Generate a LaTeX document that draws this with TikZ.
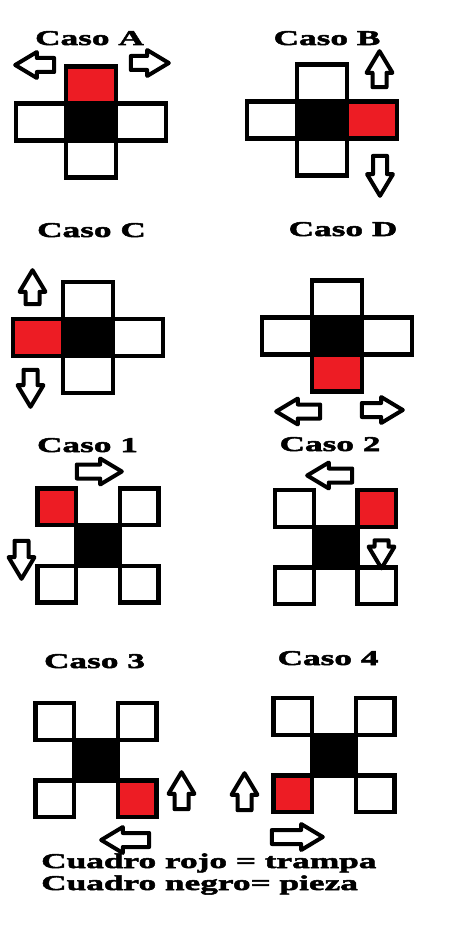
\documentclass[tikz,border=0pt]{standalone}
\usepackage{fontspec}
\newfontfamily\rotulo[FakeStretch=1.68,FakeBold=2.5]{Liberation Serif}
\usetikzlibrary{positioning}
\usetikzlibrary{shapes.arrows}
\definecolor{rojo}{RGB}{237,28,36}

\begin{document}
\begin{tikzpicture}[x=1pt, y=-1pt, node distance=0pt,
    celda/.style={rectangle, draw=black, line width=4.4pt, minimum width=50pt, minimum height=37pt, inner sep=0pt, outer sep=0pt},
    esquina/.style={celda, minimum width=38.6pt, minimum height=36.6pt},
    pieza/.style={celda, fill=black, minimum width=43.6pt, minimum height=40.6pt},
    flecha/.style={single arrow, draw=black, fill=white, line width=4pt, line join=round, inner sep=0pt, inner ysep=5pt, single arrow head extend=6pt, single arrow tip angle=62, minimum height=#1},
    titulo/.style={font=\rotulo\bfseries\fontsize{21}{25}\selectfont, anchor=base, inner sep=0pt},
    leyenda/.style={titulo, anchor=base west}]
        \useasboundingbox (0,0) rectangle (466,941);

        \node[titulo] (titA) at (89.5,45) {Caso A};
        \node[celda, fill=black] (negA) at (91,122) {};
        \node[celda, fill=rojo] (arrA) [above=of negA] {};
        \node[celda] (abaA) [below=of negA] {};
        \node[celda] (izqA) [left=of negA] {};
        \node[celda] (derA) [right=of negA] {};
        \node[flecha=39pt, rotate=180] (flA1) at (40.5,65) {};
        \node[flecha=38pt] (flA2) at (144,63) {};

        \node[titulo] (titB) at (327,45) {Caso B};
        \node[celda, fill=black] (negB) at (322,120) {};
        \node[celda] (arrB) [above=of negB] {};
        \node[celda] (abaB) [below=of negB] {};
        \node[celda] (izqB) [left=of negB] {};
        \node[celda, fill=rojo] (derB) [right=of negB] {};
        \node[flecha=36pt, rotate=90] (flB1) at (379.5,75) {};
        \node[flecha=40pt, rotate=270] (flB2) at (380,170) {};

        \node[titulo] (titC) at (91.5,237) {Caso C};
        \node[celda, fill=black] (negC) at (88,337.5) {};
        \node[celda] (arrC) [above=of negC] {};
        \node[celda] (abaC) [below=of negC] {};
        \node[celda, fill=rojo] (izqC) [left=of negC] {};
        \node[celda] (derC) [right=of negC] {};
        \node[flecha=34pt, rotate=90] (flC1) at (32.5,293) {};
        \node[flecha=37pt, rotate=270] (flC2) at (30.5,382.5) {};

        \node[titulo] (titD) at (343,236) {Caso D};
        \node[celda, fill=black] (negD) at (337,336) {};
        \node[celda] (arrD) [above=of negD] {};
        \node[celda, fill=rojo] (abaD) [below=of negD] {};
        \node[celda] (izqD) [left=of negD] {};
        \node[celda] (derD) [right=of negD] {};
        \node[flecha=44pt, rotate=180] (flD1) at (304,411.5) {};
        \node[flecha=41pt] (flD2) at (376.5,410) {};

        \node[titulo] (tit1) at (87.5,452) {Caso 1};
        \node[pieza] (neg1) at (98,545.5) {};
        \node[esquina, fill=rojo] (ai1) [above left=of neg1] {};
        \node[esquina] (ad1) [above right=of neg1] {};
        \node[esquina] (bi1) [below left=of neg1] {};
        \node[esquina] (bd1) [below right=of neg1] {};
        \node[flecha=45pt] (fl11) at (93.5,471.5) {};
        \node[flecha=38pt, rotate=270] (fl12) at (21.5,554) {};

        \node[titulo] (tit2) at (330,451) {Caso 2};
        \node[pieza] (neg2) at (335.5,547) {};
        \node[esquina] (ai2) [above left=of neg2] {};
        \node[esquina, fill=rojo] (ad2) [above right=of neg2] {};
        \node[esquina] (bi2) [below left=of neg2] {};
        \node[esquina] (bd2) [below right=of neg2] {};
        \node[flecha=45pt, rotate=180] (fl21) at (335.5,475.5) {};
        \node[flecha=28pt, rotate=270] (fl22) at (381.5,548.5) {};

        \node[titulo] (tit3) at (94.5,668) {Caso 3};
        \node[pieza] (neg3) at (96,760) {};
        \node[esquina] (ai3) [above left=of neg3] {};
        \node[esquina] (ad3) [above right=of neg3] {};
        \node[esquina] (bi3) [below left=of neg3] {};
        \node[esquina, fill=rojo] (bd3) [below right=of neg3] {};
        \node[flecha=37pt, rotate=90] (fl31) at (181.5,796.5) {};
        \node[flecha=48pt, rotate=180] (fl32) at (131,840) {};

        \node[titulo] (tit4) at (328,665) {Caso 4};
        \node[pieza] (neg4) at (334,755) {};
        \node[esquina] (ai4) [above left=of neg4] {};
        \node[esquina] (ad4) [above right=of neg4] {};
        \node[esquina, fill=rojo] (bi4) [below left=of neg4] {};
        \node[esquina] (bd4) [below right=of neg4] {};
        \node[flecha=37pt, rotate=90] (fl41) at (244.5,797.5) {};
        \node[flecha=51pt] (fl42) at (291.5,837) {};

        \node[leyenda] (ley1) at (41,868) {Cuadro rojo = trampa};
        \node[leyenda] (ley2) at (41,890) {Cuadro negro= pieza};
    \end{tikzpicture}
\end{document}
